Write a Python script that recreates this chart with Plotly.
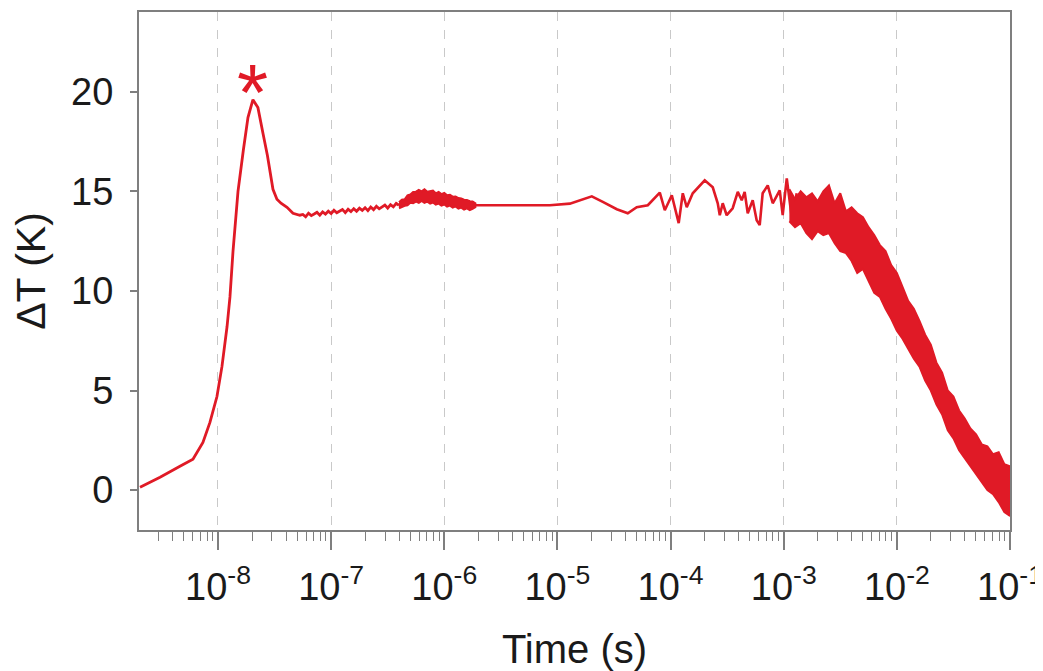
import plotly.graph_objects as go

# ---------------- data ----------------
# time is stored as log10(t / s); dT in K

# fast rise and peak (~20 ns)
rise_log_t = [-8.689, -8.512, -8.336, -8.221, -8.133, -8.071, -8.009, -7.965,
              -7.920, -7.894, -7.867, -7.823, -7.775, -7.735, -7.691, -7.647,
              -7.602, -7.563, -7.514, -7.479, -7.443, -7.390, -7.337, -7.276]
rise_dT = [0.15, 0.65, 1.2, 1.55, 2.4, 3.4, 4.7, 6.2,
           8.2, 9.7, 12.0, 15.0, 17.1, 18.7, 19.6, 19.2,
           17.9, 16.8, 15.1, 14.6, 14.4, 14.2, 13.9, 13.8]

# thin noisy plateau 60 ns .. 0.4 us
plateau_log_t = [-7.250, -7.225, -7.200, -7.175, -7.150, -7.125, -7.100, -7.075,
                 -7.050, -7.025, -7.000, -6.975, -6.950, -6.925, -6.900, -6.875,
                 -6.850, -6.825, -6.800, -6.775, -6.750, -6.725, -6.700, -6.675,
                 -6.650, -6.625, -6.600, -6.575, -6.550, -6.525, -6.500, -6.475,
                 -6.450, -6.425, -6.400]
plateau_dT = [13.84, 13.72, 13.90, 13.78, 13.86, 13.95, 13.80, 13.97,
              13.86, 14.00, 13.88, 14.05, 13.92, 13.99, 14.09, 13.93,
              14.10, 13.98, 14.13, 14.00, 14.15, 14.04, 14.18, 14.03,
              14.21, 14.08, 14.25, 14.12, 14.22, 14.31, 14.16, 14.33,
              14.22, 14.39, 14.30]

# thicker noise band 0.4 us .. 1.9 us (upper / lower edge)
hump_log_t = [-6.400, -6.375, -6.350, -6.325, -6.300, -6.275, -6.250, -6.225,
              -6.200, -6.175, -6.150, -6.125, -6.100, -6.075, -6.050, -6.025,
              -6.000, -5.975, -5.950, -5.925, -5.900, -5.875, -5.850, -5.825,
              -5.800, -5.775, -5.750, -5.725]
hump_upper = [14.45, 14.58, 14.60, 14.80, 14.84, 14.97, 14.98, 15.07,
              15.00, 15.10, 14.98, 15.00, 15.04, 14.90, 14.97, 14.86,
              14.92, 14.80, 14.82, 14.73, 14.74, 14.66, 14.64, 14.58,
              14.57, 14.50, 14.49, 14.40]
hump_lower = [14.15, 14.20, 14.27, 14.30, 14.42, 14.40, 14.48, 14.42,
              14.52, 14.42, 14.48, 14.38, 14.44, 14.33, 14.38, 14.28,
              14.34, 14.23, 14.28, 14.18, 14.24, 14.13, 14.18, 14.08,
              14.14, 14.06, 14.12, 14.20]

# smooth / irregular part 2 us .. 1.3 ms
mid_log_t = [-5.725, -5.686, -5.067, -4.890, -4.696, -4.599, -4.475, -4.378, -4.299,
             -4.201, -4.095, -4.051, -3.989, -3.928, -3.892, -3.857, -3.804,
             -3.698, -3.627, -3.583, -3.565, -3.539, -3.504, -3.451, -3.406,
             -3.371, -3.345, -3.318, -3.274, -3.239, -3.212, -3.186, -3.141,
             -3.097, -3.035, -3.009, -2.973, -2.929, -2.885]
mid_dT = [14.30, 14.3, 14.3, 14.38, 14.75, 14.47, 14.1, 13.9, 14.2,
          14.3, 14.93, 14.05, 14.8, 13.4, 14.9, 14.2, 14.9,
          15.55, 15.2, 14.4, 13.8, 14.4, 13.8, 14.15, 14.97,
          14.55, 14.97, 13.9, 14.55, 13.55, 13.3, 14.9, 15.3,
          14.4, 15.05, 13.8, 15.65, 13.7, 14.9]

# noisy decay 1 ms .. 100 ms: upper and lower edge of the noise band
band_log_t = [-2.95, -2.90, -2.85, -2.80, -2.75, -2.70, -2.65, -2.60, -2.55, -2.50,
              -2.45, -2.40, -2.35, -2.30, -2.25, -2.20, -2.15, -2.10, -2.05, -2.00,
              -1.95, -1.90, -1.85, -1.80, -1.75, -1.70, -1.65, -1.60, -1.55, -1.50,
              -1.45, -1.40, -1.35, -1.30, -1.25, -1.20, -1.15, -1.10, -1.05, -1.00]
band_upper = [15.1, 14.6, 15.0, 14.7, 14.9, 14.5, 15.0, 15.3, 14.4, 14.9,
              14.0, 14.2, 13.9, 13.7, 13.2, 12.8, 12.3, 12.0, 11.3, 10.9,
              10.2, 9.5, 9.1, 8.5, 7.8, 7.3, 6.4, 5.9, 5.0, 4.7,
              4.0, 3.6, 3.1, 2.8, 2.3, 2.2, 1.8, 1.9, 1.3, 1.2]
band_lower = [13.5, 13.2, 13.4, 12.9, 12.6, 13.0, 12.8, 12.9, 12.4, 12.0,
              11.9, 11.5, 10.9, 11.1, 10.5, 9.9, 9.7, 9.1, 8.6, 8.0,
              7.6, 7.1, 6.6, 6.2, 5.5, 5.0, 4.3, 3.8, 3.0, 2.6,
              2.0, 1.6, 1.2, 0.8, 0.4, 0.0, -0.2, -0.6, -1.1, -1.3]

# axis ticks
decade_exponents = [-8, -7, -6, -5, -4, -3, -2, -1]
y_ticks = [0, 5, 10, 15, 20]
peak_label = "*"

# ---------------- figure ----------------
RED = "#e01a26"
AXIS = "#7f7f7f"
TXT = "#1a1a1a"
FONT = "Liberation Sans, Arial, Helvetica, sans-serif"


def band(log_t, upper, lower):
    return go.Scatter(
        x=[10 ** v for v in log_t + log_t[::-1]], y=upper + lower[::-1],
        mode="lines", fill="toself", fillcolor=RED,
        line=dict(color=RED, width=2), hoverinfo="skip", showlegend=False)


fig = go.Figure()
fig.add_trace(go.Scatter(
    x=[10 ** v for v in rise_log_t + plateau_log_t],
    y=rise_dT + plateau_dT, mode="lines",
    line=dict(color=RED, width=2.8), hoverinfo="skip", showlegend=False))
fig.add_trace(band(hump_log_t, hump_upper, hump_lower))
fig.add_trace(go.Scatter(
    x=[10 ** v for v in mid_log_t], y=mid_dT, mode="lines",
    line=dict(color=RED, width=2.6), hoverinfo="skip", showlegend=False))
fig.add_trace(band(band_log_t, band_upper, band_lower))

fig.add_annotation(x=rise_log_t[14], y=19.95, text=peak_label, showarrow=False,
                   font=dict(family=FONT, size=80, color=RED), yanchor="middle")

minor_vals = [k * 10.0 ** d for d in range(-9, -1) for k in range(2, 10)
              if 2e-9 <= k * 10.0 ** d <= 0.1]

fig.update_xaxes(
    type="log", range=[-8.698, -1], automargin=False,
    tickmode="array", tickvals=[10.0 ** e for e in decade_exponents],
    ticktext=["10<sup>%d</sup>" % e for e in decade_exponents],
    ticks="outside", ticklen=18, tickwidth=1.6, tickcolor=AXIS,
    ticklabelstandoff=4,
    showline=True, linecolor=AXIS, linewidth=2, mirror=True,
    showgrid=True, gridcolor="#c9c9c9", griddash="dash", gridwidth=1,
    zeroline=False,
    minor=dict(tickmode="array", tickvals=minor_vals, ticks="outside",
               ticklen=9, tickwidth=1.3, tickcolor=AXIS, showgrid=False),
    tickfont=dict(family=FONT, size=38, color=TXT),
    title=dict(text="Time (s)", font=dict(family=FONT, size=40, color=TXT),
               standoff=34),
)
fig.update_yaxes(
    range=[-2, 24], automargin=False, tickmode="array", tickvals=y_ticks,
    ticks="outside", ticklen=7, tickwidth=1.6, tickcolor=AXIS,
    showline=True, linecolor=AXIS, linewidth=2, mirror=True,
    showgrid=False, zeroline=False,
    tickfont=dict(family=FONT, size=38, color=TXT),
    ticklabelstandoff=9,
    title=dict(text="ΔT (K)", font=dict(family=FONT, size=41, color=TXT),
               standoff=16),
)
# the page body adds an 8 px offset, so the figure is sized to fit the window
fig.update_layout(
    width=1035, height=663,
    margin=dict(l=131, r=33, t=4, b=141),
    paper_bgcolor="white", plot_bgcolor="white",
)
fig.write_html("out.html")
